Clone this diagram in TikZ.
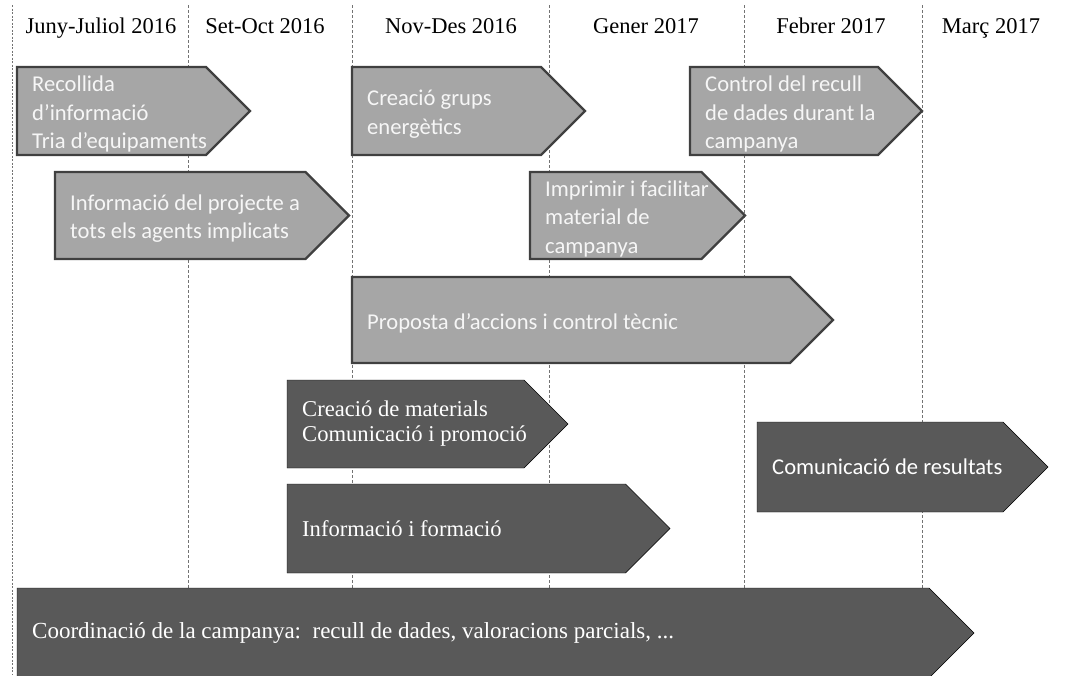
\documentclass[tikz,border=0pt]{standalone}
\usepackage{fontspec}
\setmainfont{Liberation Serif}
\newfontfamily\boxsans{Carlito}
\usepackage{tikz}
\usetikzlibrary{positioning}

\definecolor{lightfill}{HTML}{A6A6A6}
\definecolor{lightedge}{HTML}{404040}
\definecolor{darkfill}{HTML}{595959}
\definecolor{lighttext}{HTML}{F6F6F6}

\tikzset{
  month/.style={font=\fontsize{22.5}{26}\selectfont, anchor=base, inner sep=0pt},
  monthline/.style={draw=black!55, line width=0.9pt, dash pattern=on 3pt off 2pt},
  lightphase/.style={fill=lightfill, draw=lightedge, line width=2.2pt, line join=miter},
  lightphase text/.style={font=\boxsans\fontsize{22.6}{28.5}\selectfont, text=lighttext, align=left, inner sep=2pt, yshift=-3pt},
  darkphase/.style={fill=darkfill},
  darkphase text/.style={font=\fontsize{22.6}{25}\selectfont, text=white, align=left, inner sep=2pt},
  darksans text/.style={font=\boxsans\fontsize{22.6}{28}\selectfont, text=white, align=left, inner sep=2pt},
  wide text/.style={darkphase text, font=\fontsize{23}{26}\selectfont}
}

% #1 shape style, #2 text style, #3 name, #4 left, #5 tip, #6 top, #7 bottom, #8 text
\newcommand{\phasearrow}[8]{%
  \draw[#1] (#4,#6) -- ({#5-(#7-#6)/2},#6) -- (#5,{(#6+#7)/2})
    -- ({#5-(#7-#6)/2},#7) -- (#4,#7) -- cycle;
  \node[#2, anchor=west] (#3) at ({#4+13},{(#6+#7)/2}) {#8};
}

\begin{document}
\begin{tikzpicture}[x=1pt, y=-1pt]
  \useasboundingbox (0,0) rectangle (1084,675);
  \clip (0,0) rectangle (1084,675);

  \draw[monthline, dash pattern=on 2pt off 1.5pt] (12,5) -- (12,675);
  \foreach \x in {188,352,549,744,922}
    \draw[monthline] (\x,5) -- (\x,675);

  \node[month] (jun) at (101,33) {Juny-Juliol 2016};
  \node[month] (set) at (265,33) {Set-Oct 2016};
  \node[month] (nov) at (451,33) {Nov-Des 2016};
  \node[month] (gen) at (646,33) {Gener 2017};
  \node[month] (feb) at (831,33) {Febrer 2017};
  \node[month] (mar) at (991,33) {Març 2017};

  \phasearrow{lightphase}{lightphase text}{recollida}{17}{250}{67}{155}{Recollida\\d’informació\\Tria d’equipaments}
  \phasearrow{lightphase}{lightphase text}{grups}{352}{585}{67}{155}{Creació grups\\energètics}
  \phasearrow{lightphase}{lightphase text}{control}{690}{922}{67}{155}{Control del recull\\de dades durant la\\campanya}
  \phasearrow{lightphase}{lightphase text}{projecte}{55}{349}{172}{259}{Informació del projecte a\\tots els agents implicats}
  \phasearrow{lightphase}{lightphase text}{imprimir}{530}{745}{172}{259}{Imprimir i facilitar\\material de\\campanya}
  \phasearrow{lightphase}{lightphase text}{proposta}{352}{833}{277}{363}{Proposta d’accions i control tècnic}

  \phasearrow{darkphase}{darkphase text}{materials}{287}{568}{380}{468}{Creació de materials\\Comunicació i promoció}
  \phasearrow{darkphase}{darkphase text}{formacio}{287}{670}{484}{573}{Informació i formació}
  \phasearrow{darkphase}{darksans text}{resultats}{757}{1048}{422}{512}{Comunicació de resultats}
  \phasearrow{darkphase}{wide text}{coordinacio}{17}{974}{588}{678}{Coordinació de la campanya:\ \ recull de dades, valoracions parcials, ...}
\end{tikzpicture}
\end{document}
